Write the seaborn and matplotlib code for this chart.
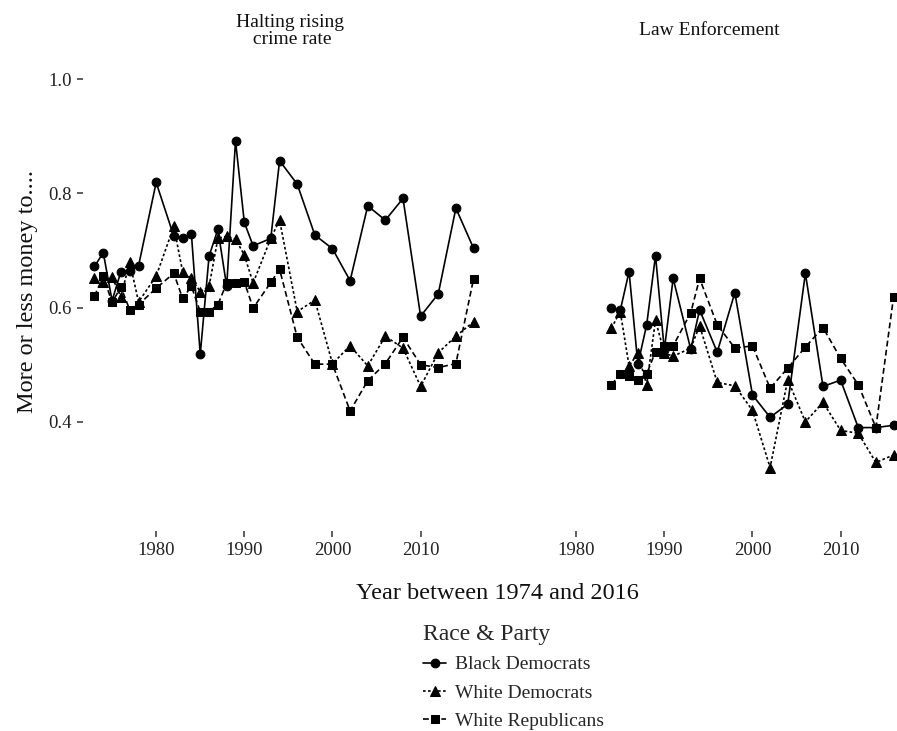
import matplotlib
matplotlib.use('Agg')
import matplotlib.pyplot as plt
import pandas as pd
import seaborn as sns

# GSS spending items, share saying more money should go to...
years_crime = [1973, 1974, 1975, 1976, 1977, 1978, 1980, 1982, 1983, 1984, 1985, 1986, 1987, 1988, 1989,
               1990, 1991, 1993, 1994, 1996, 1998, 2000, 2002, 2004, 2006, 2008, 2010, 2012, 2014, 2016]
black_dem_crime = [0.672, 0.696, 0.612, 0.663, 0.664, 0.673, 0.819, 0.725, 0.722, 0.728, 0.518, 0.690, 0.737, 0.637, 0.892,
                   0.749, 0.708, 0.721, 0.857, 0.816, 0.727, 0.703, 0.647, 0.778, 0.753, 0.791, 0.585, 0.624, 0.774, 0.704]
white_dem_crime = [0.651, 0.645, 0.653, 0.619, 0.680, 0.610, 0.655, 0.742, 0.663, 0.651, 0.628, 0.637, 0.721, 0.725, 0.720,
                   0.692, 0.643, 0.721, 0.753, 0.593, 0.613, 0.502, 0.533, 0.498, 0.550, 0.529, 0.462, 0.521, 0.550, 0.575]
white_rep_crime = [0.620, 0.655, 0.609, 0.636, 0.596, 0.605, 0.634, 0.660, 0.616, 0.637, 0.593, 0.593, 0.605, 0.643, 0.643,
                   0.645, 0.599, 0.644, 0.667, 0.548, 0.501, 0.501, 0.419, 0.472, 0.502, 0.548, 0.500, 0.495, 0.502, 0.650]

years_law = [1984, 1985, 1986, 1987, 1988, 1989, 1990, 1991, 1993, 1994, 1996,
             1998, 2000, 2002, 2004, 2006, 2008, 2010, 2012, 2014, 2016]
black_dem_law = [0.599, 0.595, 0.663, 0.501, 0.570, 0.691, 0.526, 0.651, 0.527, 0.596, 0.522,
                 0.626, 0.447, 0.408, 0.431, 0.660, 0.462, 0.473, 0.390, 0.390, 0.394]
white_dem_law = [0.564, 0.593, 0.498, 0.520, 0.465, 0.578, 0.520, 0.515, 0.529, 0.568, 0.469,
                 0.463, 0.420, 0.320, 0.474, 0.400, 0.434, 0.385, 0.380, 0.329, 0.342]
white_rep_law = [0.465, 0.484, 0.480, 0.474, 0.484, 0.523, 0.533, 0.533, 0.591, 0.651, 0.570,
                 0.529, 0.533, 0.459, 0.494, 0.531, 0.565, 0.511, 0.465, 0.390, 0.618]

groups = ['Black Democrats', 'White Democrats', 'White Republicans']
panels = ['Halting rising\n crime rate', 'Law Enforcement']


def long_df(years, series):
    rows = []
    for g, vals in zip(groups, series):
        for y, v in zip(years, vals):
            rows.append({'year': y, 'value': v, 'group': g})
    return pd.DataFrame(rows)


df_crime = long_df(years_crime, [black_dem_crime, white_dem_crime, white_rep_crime])
df_law = long_df(years_law, [black_dem_law, white_dem_law, white_rep_law])

sns.set_theme(style='white')
plt.rcParams['font.family'] = ['Liberation Serif', 'DejaVu Serif']

markers = {'Black Democrats': 'o', 'White Democrats': '^', 'White Republicans': 's'}
dashes = {'Black Democrats': '', 'White Democrats': (1.6, 1.4), 'White Republicans': (3.5, 2.0)}

fig = plt.figure(figsize=(8.97, 7.31), dpi=100)
W, H = 897, 731
ax1 = fig.add_axes([83 / W, (H - 531) / H, 413 / W, (531 - 57.6) / H])
ax2 = fig.add_axes([503 / W, (H - 531) / H, 413 / W, (531 - 57.6) / H])

for ax, d, title in zip([ax1, ax2], [df_crime, df_law], panels):
    sns.lineplot(data=d, x='year', y='value', style='group', style_order=groups,
                 markers=markers, dashes=dashes, color='black', estimator=None,
                 linewidth=1.2, markersize=6.3, markeredgecolor='black', ax=ax,
                 legend=(ax is ax1))
    # triangles read a bit larger than circles in the original
    for ln in ax.lines:
        if ln.get_marker() == '^':
            ln.set_markersize(7.3)
    ax.set_xlim(1971.7, 2018.55)
    ax.set_ylim(0.209, 1.0375)
    ax.set_xticks([1980, 1990, 2000, 2010])
    ax.set_xlabel('')
    ax.set_ylabel('')
    for s in ax.spines.values():
        s.set_visible(False)
    ax.tick_params(axis='x', bottom=True, length=4, width=1.1, color='#333333',
                   labelsize=13.5, labelcolor='#222222', pad=4)
    ax.text(0.5, 1.0565, title, transform=ax.transAxes, ha='center', va='center',
            fontsize=14, linespacing=1.05, color='#111111')

ax1.set_yticks([0.4, 0.6, 0.8, 1.0])
ax1.set_yticklabels(['0.4', '0.6', '0.8', '1.0'])
ax1.tick_params(axis='y', left=True, length=4, width=1.1, color='#333333',
                labelsize=13.5, labelcolor='#222222', pad=4)
ax2.set_yticks([])

handles, labels = ax1.get_legend_handles_labels()
ax1.get_legend().remove()
keep = [(h, l) for h, l in zip(handles, labels) if l in groups]
for h, _ in keep:
    if h.get_marker() == '^':
        h.set_markersize(7.3)
leg = fig.legend([h for h, _ in keep], [l for _, l in keep], title='Race & Party',
                 loc='upper left', bbox_to_anchor=(423 / W, 1 - 624 / H),
                 frameon=False, fontsize=14, title_fontsize=17, alignment='left',
                 handlelength=1.2, handletextpad=0.45, labelspacing=0.55, borderpad=0,
                 borderaxespad=0)

fig.text(27 / W, 1 - 292 / H, 'More or less money to....', rotation=90,
         ha='center', va='center', fontsize=17.5, color='#111111')
fig.text(497.5 / W, 1 - 599 / H, 'Year between 1974 and 2016', ha='center',
         va='baseline', fontsize=17.5, color='#111111')

fig.savefig('out.png', dpi=100)
plt.close(fig)
